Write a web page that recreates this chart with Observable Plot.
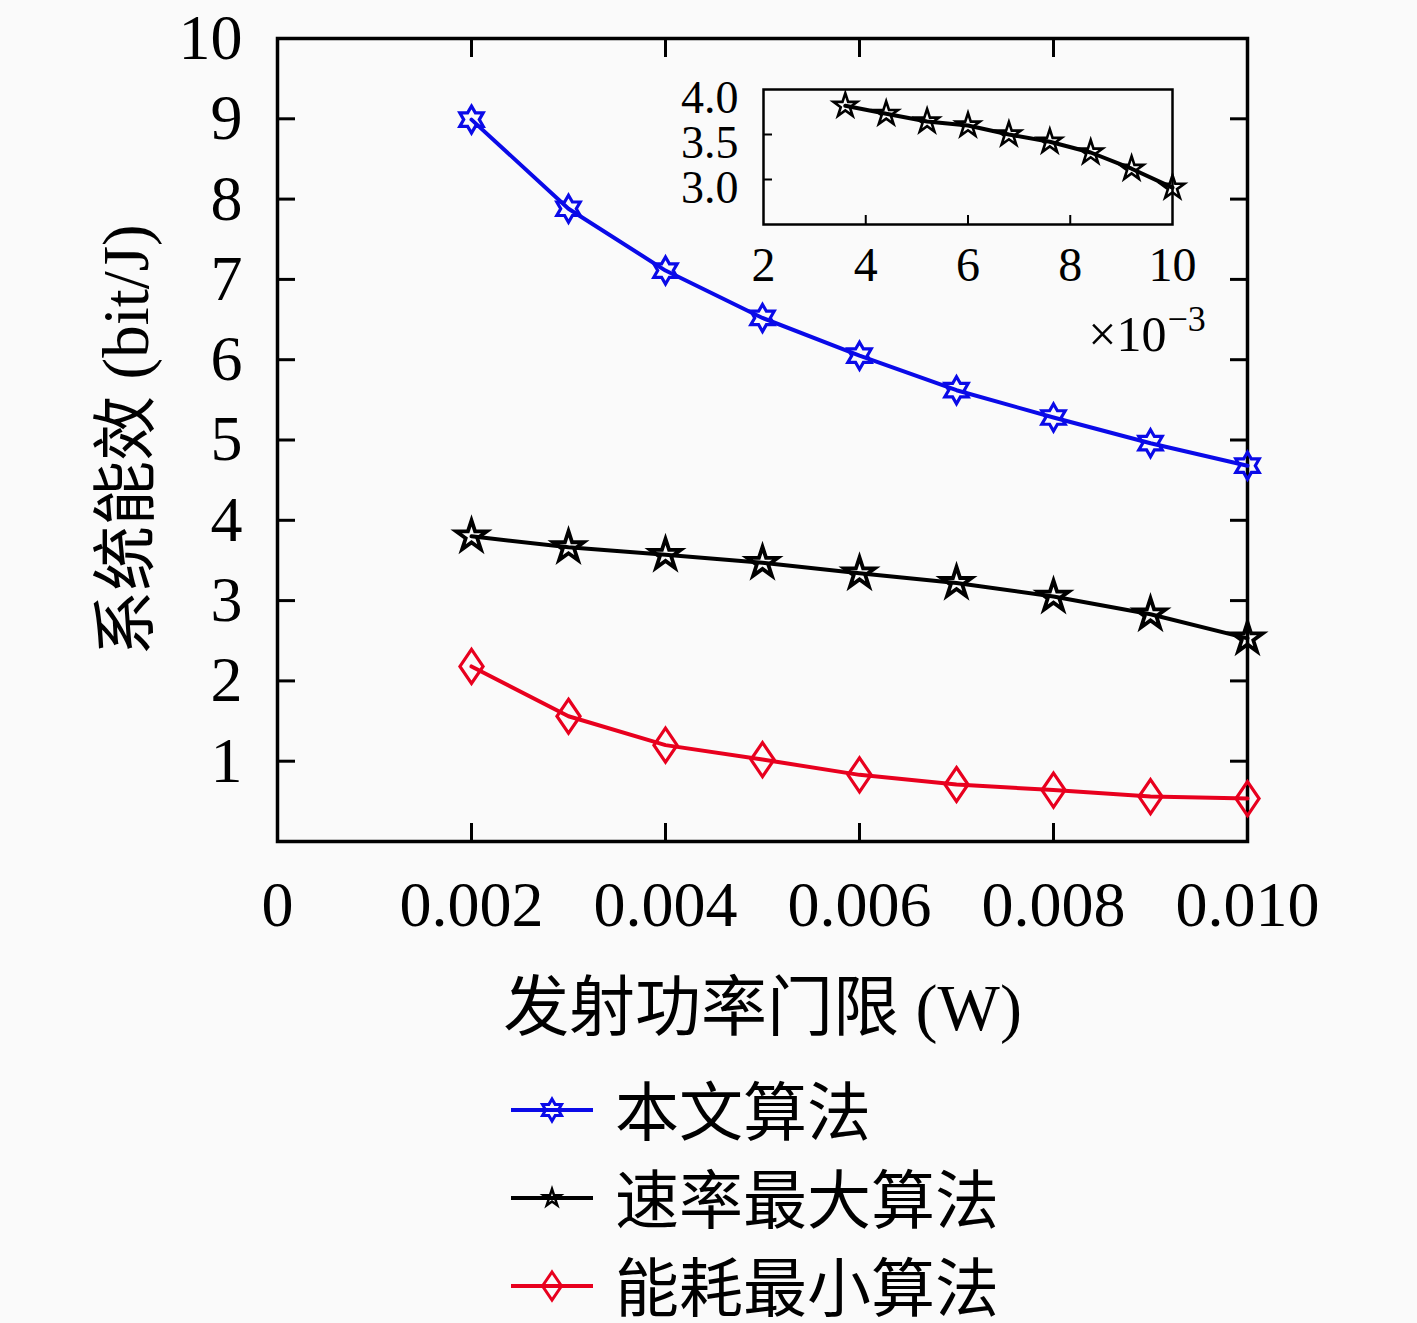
<!DOCTYPE html>
<html><head><meta charset="utf-8">
<script src="https://cdn.jsdelivr.net/npm/d3@7"></script>
<script src="https://cdn.jsdelivr.net/npm/@observablehq/plot@0.6"></script>
<style>
body{margin:0;background:#fafafa;}
#wrap{position:relative;width:1417px;height:1323px;overflow:hidden;background:#fafafa;}
#main{position:absolute;left:0;top:0;}
#inset{position:absolute;left:640px;top:60px;}
#legend{position:absolute;left:500px;top:1066px;}
.row{display:flex;align-items:center;height:88px;}
.row span{font-family:"Noto Sans CJK SC",sans-serif;font-size:64px;margin-left:11px;color:#000;line-height:1;position:relative;top:-3px;}
</style></head><body>
<div id="wrap"><div id="main"></div><div id="inset"></div><div id="legend"></div></div>
<script>
// ---- data ----
const powerThreshold = [0.002, 0.003, 0.004, 0.005, 0.006, 0.007, 0.008, 0.009, 0.010];
const seriesNames = ["本文算法", "速率最大算法", "能耗最小算法"];
const proposed  = [8.99, 7.88, 7.11, 6.52, 6.05, 5.62, 5.28, 4.96, 4.68];
const rateMax   = [3.80, 3.665, 3.57, 3.47, 3.34, 3.22, 3.05, 2.83, 2.53];
const energyMin = [2.18, 1.56, 1.20, 1.02, 0.83, 0.71, 0.64, 0.56, 0.535];
const xTicks = [0, 0.002, 0.004, 0.006, 0.008, 0.010];
const xTickLabels = ["0", "0.002", "0.004", "0.006", "0.008", "0.010"];
const yTicks = [1, 2, 3, 4, 5, 6, 7, 8, 9, 10];
const xLabel = "发射功率门限 (W)";
const yLabel = "系统能效 (bit/J)";
// inset (x in units of 1e-3 W)
const insetX = [3.6, 4.4, 5.2, 6.0, 6.8, 7.6, 8.4, 9.2, 10.0];
const insetY = [3.82, 3.73, 3.645, 3.60, 3.50, 3.42, 3.30, 3.12, 2.91];
const insetXTicks = [2, 4, 6, 8, 10];
const insetYTicks = [3.0, 3.5, 4.0];

// ---- styling ----
const BLUE = "#0a0ae8", BLACK = "#000000", RED = "#e8001e";
const SERIF = "'Liberation Serif','Noto Sans CJK SC',serif";

function starSymbol(n, ratio) {
  return {draw(ctx, size) {
    const R = Math.sqrt(size / Math.PI), r = R * ratio;
    for (let k = 0; k < 2 * n; k++) {
      const a = Math.PI * k / n - Math.PI / 2, rad = k % 2 ? r : R;
      const px = rad * Math.cos(a), py = rad * Math.sin(a);
      if (k) ctx.lineTo(px, py); else ctx.moveTo(px, py);
    }
    ctx.closePath();
  }};
}
const hexagram = starSymbol(6, 1 / Math.sqrt(3));
const pentagram = starSymbol(5, 0.382);
const diamond = {draw(ctx, size) {
  const R = Math.sqrt(size / Math.PI), w = R * 0.68;
  ctx.moveTo(0, -R); ctx.lineTo(w, 0); ctx.lineTo(0, R); ctx.lineTo(-w, 0); ctx.closePath();
}};

const mk = ys => powerThreshold.map((x, i) => ({x, y: ys[i]}));
const dProp = mk(proposed), dRate = mk(rateMax), dEner = mk(energyMin);

const main = Plot.plot({
  width: 1417, height: 1060,
  marginLeft: 277, marginRight: 170, marginTop: 38, marginBottom: 219,
  x: {domain: [0, 0.010], label: null},
  y: {domain: [0, 10], label: null},
  style: {background: "transparent", fontFamily: SERIF, color: "#000", overflow: "visible"},
  marks: [
    Plot.axisY({ticks: yTicks, anchor: "left", tickSize: 0, tickPadding: 35, fontSize: 64, label: null, tickFormat: d => String(d)}),
    Plot.axisY({ticks: yTicks, anchor: "left", tickSize: -18, fill: "none", strokeWidth: 3, label: null}),
    Plot.axisY({ticks: yTicks, anchor: "right", tickSize: -18, fill: "none", strokeWidth: 3, label: null}),
    Plot.axisX({ticks: xTicks, anchor: "bottom", tickSize: 0, tickPadding: 39, fontSize: 64, label: null,
      tickFormat: d => xTickLabels[xTicks.indexOf(d)]}),
    Plot.axisX({ticks: xTicks.slice(1), anchor: "bottom", tickSize: -18, fill: "none", strokeWidth: 3, label: null}),
    Plot.axisX({ticks: xTicks.slice(1), anchor: "top", tickSize: -18, fill: "none", strokeWidth: 3, label: null}),
    Plot.frame({stroke: "#000", strokeWidth: 3.5}),
    Plot.line(dProp, {x: "x", y: "y", stroke: BLUE, strokeWidth: 4}),
    Plot.line(dRate, {x: "x", y: "y", stroke: BLACK, strokeWidth: 4}),
    Plot.line(dEner, {x: "x", y: "y", stroke: RED, strokeWidth: 4}),
    Plot.dot(dProp, {x: "x", y: "y", symbol: hexagram, r: 13.5, stroke: BLUE, strokeWidth: 3.2, fill: "none"}),
    Plot.dot(dRate, {x: "x", y: "y", symbol: pentagram, r: 16, stroke: BLACK, strokeWidth: 3.8, fill: "none"}),
    Plot.dot(dEner, {x: "x", y: "y", symbol: diamond, r: 17, stroke: RED, strokeWidth: 3.2, fill: "none"}),
    Plot.text([yLabel], {frameAnchor: "left", dx: -150, rotate: -90, fontSize: 65, fontFamily: SERIF, textAnchor: "middle", lineAnchor: "middle"}),
    Plot.text([xLabel], {frameAnchor: "bottom", dy: 167, fontSize: 66, fontFamily: SERIF, textAnchor: "middle", lineAnchor: "middle"})
  ]
});
document.getElementById("main").appendChild(main);

const dInset = insetX.map((x, i) => ({x, y: insetY[i]}));
const inset = Plot.plot({
  width: 580, height: 300,
  marginLeft: 123, marginRight: 48, marginTop: 29, marginBottom: 136,
  x: {domain: [2, 10], label: null},
  y: {domain: [2.5, 4.0], label: null},
  style: {background: "transparent", fontFamily: SERIF, color: "#000", overflow: "visible"},
  marks: [
    Plot.axisY({ticks: [3.0, 3.5], anchor: "left", tickSize: -9, fill: "none", strokeWidth: 2, label: null}),
    Plot.axisX({ticks: [4, 6, 8], anchor: "bottom", tickSize: -9, fill: "none", strokeWidth: 2, label: null}),
    Plot.text(insetYTicks, {y: d => d, frameAnchor: "left", dx: -25, dy: 9, textAnchor: "end", lineAnchor: "middle", text: d => d.toFixed(1), fontSize: 46}),
    Plot.text(insetXTicks, {x: d => d, frameAnchor: "bottom", dy: 41, textAnchor: "middle", lineAnchor: "middle", text: d => String(d), fontSize: 48}),
    Plot.text(["×10"], {frameAnchor: "bottom-right", dx: -6, dy: 110, textAnchor: "end", lineAnchor: "middle", fontSize: 50}),
    Plot.text(["−3"], {frameAnchor: "bottom-right", dx: -5, dy: 95, textAnchor: "start", lineAnchor: "middle", fontSize: 36}),
    Plot.frame({stroke: "#000", strokeWidth: 2.5}),
    Plot.line(dInset, {x: "x", y: "y", stroke: BLACK, strokeWidth: 4}),
    Plot.dot(dInset, {x: "x", y: "y", symbol: pentagram, r: 12.5, stroke: BLACK, strokeWidth: 2.6, fill: "none"})
  ]
});
document.getElementById("inset").appendChild(inset);

// ---- legend ----
const legendItems = [
  {name: seriesNames[0], color: BLUE, symbol: hexagram, r: 11, sw: 3},
  {name: seriesNames[1], color: BLACK, symbol: pentagram, r: 9, sw: 2.5},
  {name: seriesNames[2], color: RED, symbol: diamond, r: 14, sw: 3}
];
const legend = d3.select("#legend");
for (const it of legendItems) {
  const row = legend.append("div").attr("class", "row");
  const svg = row.append("svg").attr("width", 104).attr("height", 88);
  svg.append("line").attr("x1", 11).attr("x2", 93).attr("y1", 44).attr("y2", 44)
    .attr("stroke", it.color).attr("stroke-width", 4);
  svg.append("path").attr("d", d3.symbol(it.symbol, it.r * it.r * Math.PI)())
    .attr("transform", "translate(52,44)").attr("fill", "none")
    .attr("stroke", it.color).attr("stroke-width", it.sw);
  row.append("span").text(it.name);
}
</script>
</body></html>
